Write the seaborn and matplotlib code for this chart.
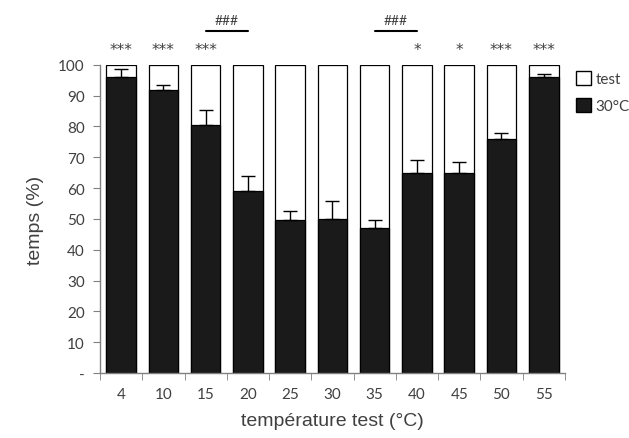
import numpy as np
import pandas as pd
import matplotlib
matplotlib.use('Agg')
import matplotlib.pyplot as plt
import seaborn as sns
from matplotlib.patches import Patch

# data
temps = ['4', '10', '15', '20', '25', '30', '35', '40', '45', '50', '55']
pct_30 = [96, 92, 80.5, 59, 49.7, 50, 47, 65, 65, 75.8, 96]
err_30 = [2.5, 1.5, 5, 5, 2.8, 5.8, 2.5, 4, 3.5, 2.2, 1]
stars = ['***', '***', '***', '', '', '', '', '*', '*', '***', '***']
hash_pairs = [('15', '20'), ('35', '40')]

df = pd.DataFrame({'temp': temps, 'p30': pct_30, 'total': [100] * len(temps)})

sns.set_style('white')
plt.rcParams['font.family'] = ['Lato', 'DejaVu Sans']
txt = '#404040'

fig = plt.figure(figsize=(6.29, 4.39), dpi=100)
ax = fig.add_axes([0.159, 0.148, 0.739, 0.702])

sns.barplot(data=df, x='temp', y='total', color='white', edgecolor='black',
            linewidth=0.9, width=0.7, ax=ax)
sns.barplot(data=df, x='temp', y='p30', color='#1a1a1a', edgecolor='black',
            linewidth=0.9, width=0.7, ax=ax)

pos = np.arange(len(temps))
ax.errorbar(pos, pct_30, yerr=[np.zeros(len(err_30)), err_30], fmt='none',
            ecolor='black', elinewidth=1, capsize=5, capthick=1)

for x, s in zip(pos, stars):
    if s:
        ax.text(x, 102.5, s, ha='center', va='bottom', fontsize=11, color=txt,
                clip_on=False, family=['DejaVu Sans'])

for a, b in hash_pairs:
    i, j = temps.index(a), temps.index(b)
    ax.plot([i, j], [111, 111], color='black', lw=1.5, clip_on=False)
    ax.text((i + j) / 2, 112.5, '###', ha='center', va='bottom', fontsize=10,
            color=txt, clip_on=False)

ax.set_xlim(-0.5, len(temps) - 0.5)
ax.set_ylim(0, 100)
ax.set_yticks(range(0, 101, 10))
ax.set_yticklabels(['-'] + [str(v) for v in range(10, 101, 10)])
ax.set_xticks(np.arange(-0.5, len(temps), 1.0), minor=True)
ax.tick_params(axis='x', which='major', length=0, pad=10, labelsize=11, labelcolor=txt)
ax.tick_params(axis='x', which='minor', length=5, color='#808080', direction='out', bottom=True)
ax.tick_params(axis='y', length=5, color='#808080', direction='out', left=True,
               labelsize=11, labelcolor=txt, pad=6)

for side in ['top', 'right']:
    ax.spines[side].set_visible(False)
for side in ['left', 'bottom']:
    ax.spines[side].set_color('#808080')
    ax.spines[side].set_linewidth(1)

ax.set_xlabel('température test (°C)', fontsize=14, color=txt, labelpad=8,
              family=['Liberation Sans', 'DejaVu Sans'])
ax.set_ylabel('temps (%)', fontsize=14, color=txt, labelpad=10,
              family=['Liberation Sans', 'DejaVu Sans'])

handles = [Patch(facecolor='white', edgecolor='black', label='test'),
           Patch(facecolor='#1a1a1a', edgecolor='black', label='30°C')]
ax.legend(handles=handles, loc='upper left', bbox_to_anchor=(1.01, 1.0), frameon=False,
          fontsize=11, labelcolor=txt, handlelength=1.0, handleheight=1.0,
          handletextpad=0.3, borderaxespad=0, labelspacing=0.8)

fig.savefig('out.png', dpi=100)
